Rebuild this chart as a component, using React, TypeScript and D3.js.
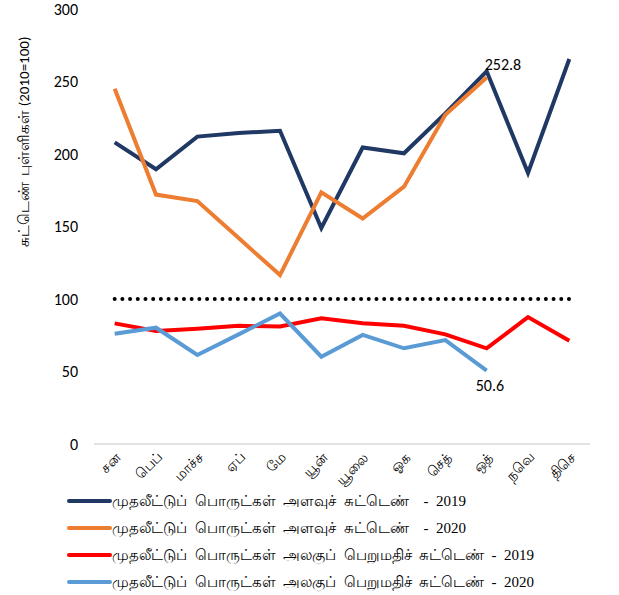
import * as d3 from 'd3'

const months = ['சன', 'பெப்', 'மாச்ச', 'ஏப்', 'மே', 'யூன்', 'யூலை', 'ஓக', 'செத்', 'ஒத்', 'நவெ', 'திசெ']

const volume2019 = [208, 189.5, 212, 214.5, 216, 149, 204.5, 200.5, 228, 257, 187, 265.5]
const volume2020 = [245, 172, 167.5, 142, 116.5, 173.5, 155.5, 177.5, 227, 252.8]
const unitValue2019 = [83.2, 78, 79.5, 81.5, 81, 86.7, 83.2, 81.6, 75.6, 66, 87.5, 71.2]
const unitValue2020 = [76, 80.2, 61.4, 75.6, 90, 60.2, 75.2, 66, 71.7, 50.6]

const yTicks = [0, 50, 100, 150, 200, 250, 300]
const baseLine = 100

const series = [
  { name: 'முதலீட்டுப்  பொருட்கள்  அளவுச்  சுட்டெண்    -  2019', values: volume2019, color: '#203864' },
  { name: 'முதலீட்டுப்  பொருட்கள்  அளவுச்  சுட்டெண்    -  2020', values: volume2020, color: '#ed7d31' },
  { name: 'முதலீட்டுப்  பொருட்கள்  அலகுப்  பெறுமதிச்  சுட்டெண்  -  2019', values: unitValue2019, color: '#ff0000' },
  { name: 'முதலீட்டுப்  பொருட்கள்  அலகுப்  பெறுமதிச்  சுட்டெண்  -  2020', values: unitValue2020, color: '#5b9bd5' },
]

const width = 619
const height = 595
const left = 94
const right = 590
const top = 9
const bottom = 444

const numFont = 'Carlito, Lato, "Open Sans", sans-serif'

export default function App() {
  const x = d3.scaleBand<string>().domain(months).range([left, right])
  const y = d3.scaleLinear().domain([0, 300]).range([bottom, top])
  const cx = (i: number) => (x(months[i]) ?? 0) + x.bandwidth() / 2

  const line = d3
    .line<number>()
    .x((_, i) => cx(i))
    .y((d) => y(d))

  const last2020 = volume2020.length - 1

  return (
    <svg
      width={width}
      height={height}
      style={{ position: 'absolute', left: 0, top: 0, background: '#fff' }}
    >
      {/* y tick labels */}
      {yTicks.map((t) => (
        <text
          key={t}
          x={78}
          y={y(t)}
          textAnchor="end"
          dominantBaseline="central"
          fontFamily={numFont}
          fontSize={16}
          fill="#000"
        >
          {t}
        </text>
      ))}
      <text
        transform={`translate(24,${142}) rotate(-90)`}
        textAnchor="middle"
        dominantBaseline="central"
        fontFamily={numFont}
        fontSize={15}
        fill="#000"
        style={{ whiteSpace: 'pre' }}
      >
        {'சுட்டெண்  புள்ளிகள் (2010=100)'}
      </text>

      {/* x axis */}
      <line x1={left} x2={right} y1={bottom} y2={bottom} stroke="#d9d9d9" strokeWidth={1.5} />
      {months.map((m, i) => (
        <text
          key={m}
          transform={`translate(${cx(i) + 4},${bottom + 11}) rotate(-45)`}
          textAnchor="end"
          dominantBaseline="central"
          fontFamily={numFont}
          fontSize={14}
          fill="#000"
        >
          {m}
        </text>
      ))}

      {/* base = 100 */}
      <line
        x1={cx(0)}
        x2={cx(months.length - 1)}
        y1={y(baseLine)}
        y2={y(baseLine)}
        stroke="#000"
        strokeWidth={4}
        strokeLinecap="round"
        strokeDasharray="0 7.7"
      />

      {series.map((s) => (
        <path
          key={s.name}
          d={line(s.values) || undefined}
          fill="none"
          stroke={s.color}
          strokeWidth={4}
          strokeLinejoin="miter"
        />
      ))}

      <text
        x={cx(last2020) - 2}
        y={y(volume2020[last2020]) - 13}
        fontFamily={numFont}
        fontSize={16}
        fill="#000"
        dominantBaseline="central"
      >
        {volume2020[last2020]}
      </text>
      <text
        x={cx(last2020) - 11}
        y={y(unitValue2020[last2020]) + 15}
        fontFamily={numFont}
        fontSize={16}
        fill="#000"
        dominantBaseline="central"
      >
        {unitValue2020[last2020]}
      </text>

      {/* legend */}
      {series.map((s, i) => (
        <g key={s.name} transform={`translate(0,${501 + i * 27})`}>
          <line x1={69} x2={110} y1={0} y2={0} stroke={s.color} strokeWidth={4} strokeLinecap="round" />
          <text
            x={112}
            y={0}
            dominantBaseline="central"
            fontFamily={'"Liberation Serif", "Times New Roman", serif'}
            fontSize={15}
            fill="#000"
            style={{ whiteSpace: 'pre' }}
          >
            {s.name}
          </text>
        </g>
      ))}
    </svg>
  )
}
